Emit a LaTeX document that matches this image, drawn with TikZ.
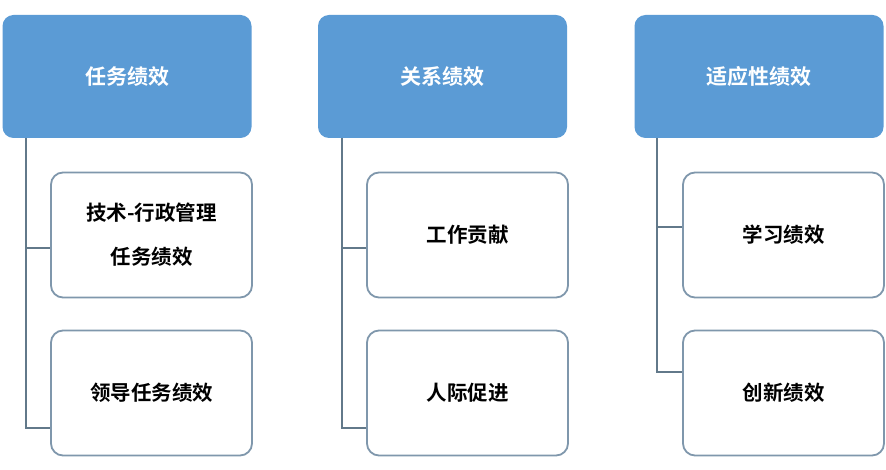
\documentclass[tikz,border=0pt]{standalone}
\usepackage{fontspec}
\newfontfamily\cjk{Noto Sans CJK SC Bold}
\definecolor{hdr}{HTML}{5B9BD5}
\definecolor{bord}{HTML}{7F97AC}
\definecolor{conn}{HTML}{62798A}
\begin{document}
\begin{tikzpicture}[x=1pt,y=-1pt,
  hdrbox/.style={draw=none,fill=hdr,rounded corners=11pt,minimum width=249pt,minimum height=123pt,inner sep=0pt,text=white,font=\cjk\fontsize{21}{24}\selectfont},
  childbox/.style={draw=bord,line width=1.8pt,fill=white,rounded corners=12pt,minimum width=201pt,minimum height=125pt,inner sep=0pt,align=center,font=\cjk\fontsize{20.5}{44}\selectfont},
  conline/.style={draw=conn,line width=1.8pt}]
\useasboundingbox (0,0) rectangle (886,470);
\fill[white] (0,0) rectangle (886,470);
% headers
\node[hdrbox] (h1) at (127,76.5) {任务绩效};
\node[hdrbox] (h2) at (442.5,76.5) {关系绩效};
\node[hdrbox] (h3) at (759,76.5) {适应性绩效};
% children
\node[childbox] (a1) at (151.5,235) {技术-行政管理\\任务绩效};
\node[childbox] (a2) at (151.5,393) {领导任务绩效};
\node[childbox] (b1) at (467.5,235) {工作贡献};
\node[childbox] (b2) at (467.5,393) {人际促进};
\node[childbox] (c1) at (783.5,235) {学习绩效};
\node[childbox] (c2) at (783.5,393) {创新绩效};
% connectors
\coordinate (t1) at (26,138);
\coordinate (t2) at (342,138);
\coordinate (t3) at (657,138);
\draw[conline] (t1) |- (a2.west |- 0,428) ;
\draw[conline] (26,248) -- (a1.west |- 0,248);
\draw[conline] (t2) |- (b2.west |- 0,428);
\draw[conline] (342,248) -- (b1.west |- 0,248);
\draw[conline] (t3) |- (c2.west |- 0,372);
\draw[conline] (657,227) -- (c1.west |- 0,227);
\end{tikzpicture}
\end{document}
